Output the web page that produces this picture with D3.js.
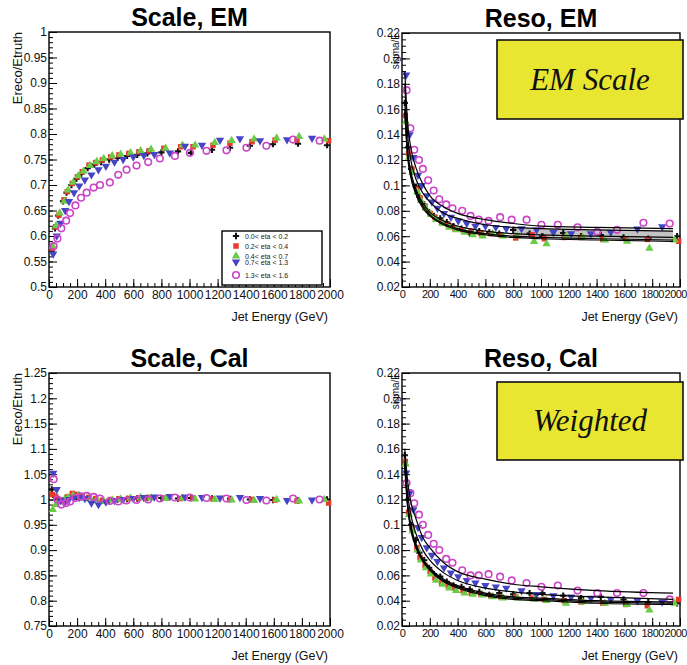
<!DOCTYPE html>
<html lang="en">
<head>
  <meta charset="UTF-8">
  <title>Jet energy scale and resolution</title>
  <style>
    html, body { margin: 0; background: #ffffff; }
    svg { display: block; font-family: "Liberation Sans", Arial, sans-serif; }
    .tick text { font-size: 12px; fill: #111; }
    .tick line { stroke: #000; stroke-width: 1; }
    .tight .tick text { font-size: 11px; letter-spacing: -0.5px; }
  </style>
</head>
<body>
  <svg id="chart" width="687" height="665"></svg>

  <script src="https://cdnjs.cloudflare.com/ajax/libs/d3/7.8.5/d3.min.js"></script>
  <script>
    // eta bins (legend order) and marker style per bin
    const seriesLabels = ['0.0< eta < 0.2', '0.2< eta < 0.4', '0.4< eta < 0.7', '0.7< eta < 1.3', '1.3< eta < 1.6'];
    const seriesColors = ['#111111', '#e8382c', '#6ccb45', '#4444c4', '#cc44c8'];
    const seriesShapes = ['cross', 'square', 'triUp', 'triDown', 'openCircle'];

    // jet energy (GeV) of every point, one list per eta bin
    const energy = [
      [20, 43, 66, 100, 125, 160, 195, 230, 275, 322, 370, 428, 488, 556, 628, 700, 800, 918, 1010, 1160, 1288, 1430, 1594, 1772, 1979],
      [24, 47, 71, 107, 130, 166, 202, 237, 285, 332, 380, 439, 498, 569, 640, 712, 818, 937, 1025, 1167, 1288, 1445, 1609, 1765, 1990],
      [27, 50, 76, 110, 136, 172, 208, 245, 292, 340, 390, 450, 510, 580, 652, 726, 830, 950, 1040, 1180, 1300, 1460, 1620, 1780, 1960],
      [30, 55, 82, 115, 142, 178, 215, 255, 302, 352, 405, 466, 528, 600, 675, 750, 860, 968, 1089, 1217, 1359, 1502, 1694, 1872],
      [33, 60, 88, 122, 150, 188, 228, 268, 318, 363, 433, 493, 552, 623, 706, 789, 896, 1003, 1121, 1263, 1405, 1547, 1737, 1926]
    ];

    // Ereco/Etruth, EM scale
    const scaleEM = [
      [0.57, 0.615, 0.64, 0.668, 0.685, 0.70, 0.712, 0.722, 0.733, 0.74, 0.745, 0.75, 0.753, 0.757, 0.759, 0.762, 0.764, 0.766, 0.763, 0.769, 0.773, 0.777, 0.78, 0.781, 0.778],
      [0.576, 0.618, 0.641, 0.671, 0.687, 0.703, 0.716, 0.726, 0.739, 0.744, 0.749, 0.755, 0.759, 0.762, 0.765, 0.767, 0.772, 0.775, 0.775, 0.778, 0.782, 0.785, 0.788, 0.788, 0.787],
      [0.58, 0.62, 0.645, 0.668, 0.69, 0.705, 0.718, 0.727, 0.738, 0.746, 0.752, 0.757, 0.76, 0.763, 0.767, 0.77, 0.772, 0.778, 0.778, 0.783, 0.787, 0.79, 0.792, 0.795, 0.79],
      [0.565, 0.6, 0.625, 0.65, 0.668, 0.685, 0.698, 0.71, 0.72, 0.73, 0.737, 0.745, 0.75, 0.755, 0.758, 0.76, 0.763, 0.776, 0.778, 0.788, 0.791, 0.787, 0.789, 0.792],
      [0.58, 0.595, 0.615, 0.63, 0.645, 0.66, 0.675, 0.685, 0.695, 0.70, 0.705, 0.72, 0.73, 0.738, 0.745, 0.752, 0.757, 0.763, 0.767, 0.768, 0.773, 0.777, 0.789, 0.787]
    ];

    // sigma/E, EM scale
    const resoEM = [
      [0.165, 0.13, 0.113, 0.099, 0.091, 0.085, 0.079, 0.076, 0.074, 0.071, 0.068, 0.066, 0.062, 0.064, 0.063, 0.062, 0.065, 0.062, 0.060, 0.0625, 0.060, 0.061, 0.059, 0.058, 0.060],
      [0.155, 0.125, 0.113, 0.097, 0.09, 0.083, 0.078, 0.075, 0.071, 0.069, 0.066, 0.065, 0.064, 0.062, 0.062, 0.061, 0.0586, 0.061, 0.058, 0.059, 0.059, 0.0575, 0.058, 0.0575, 0.056],
      [0.15, 0.122, 0.11, 0.095, 0.088, 0.082, 0.077, 0.073, 0.07, 0.067, 0.065, 0.063, 0.061, 0.06, 0.062, 0.06, 0.06, 0.0557, 0.054, 0.06, 0.059, 0.057, 0.056, 0.0505, 0.057],
      [0.187, 0.14, 0.122, 0.108, 0.1, 0.092, 0.087, 0.082, 0.078, 0.075, 0.072, 0.07, 0.068, 0.068, 0.067, 0.066, 0.066, 0.065, 0.063, 0.062, 0.062, 0.063, 0.0657, 0.0675],
      [0.175, 0.145, 0.128, 0.12, 0.113, 0.104, 0.096, 0.089, 0.085, 0.082, 0.08, 0.076, 0.073, 0.072, 0.075, 0.073, 0.073, 0.069, 0.069, 0.067, 0.0635, 0.065, 0.0706, 0.070]
    ];

    // Ereco/Etruth, weighted (Cal) scale
    const scaleCal = [
      [1.02, 1.005, 0.995, 0.998, 1.003, 1.006, 1.005, 1.004, 1.003, 1.0, 0.997, 0.998, 1.0, 1.001, 1.002, 1.003, 1.003, 1.002, 1.003, 1.002, 1.001, 1.0, 0.999, 0.998, 1.0],
      [1.01, 1.006, 1.0, 0.997, 1.005, 1.012, 1.01, 1.006, 1.004, 1.002, 0.998, 1.0, 1.001, 1.002, 1.003, 1.004, 1.003, 1.002, 1.003, 1.001, 1.0, 1.0, 0.999, 0.997, 0.993],
      [0.98, 0.99, 0.995, 1.0, 1.004, 1.008, 1.007, 1.005, 1.003, 1.0, 0.996, 0.999, 1.001, 1.003, 1.004, 1.003, 1.002, 1.003, 1.001, 1.0, 0.999, 0.998, 1.0, 0.997, 1.0],
      [1.052, 1.02, 0.998, 0.995, 1.0, 1.003, 1.004, 1.002, 0.993, 0.99, 0.995, 0.998, 1.0, 1.002, 1.004, 1.005, 1.006, 1.005, 1.004, 1.003, 1.004, 1.002, 0.998, 0.999],
      [1.04, 1.0, 0.99, 0.993, 0.996, 1.003, 1.006, 1.007, 1.005, 1.002, 0.997, 0.996, 0.998, 0.999, 1.0, 1.002, 1.004, 1.004, 1.003, 1.002, 0.999, 0.998, 1.002, 1.0]
    ];

    // sigma/E, weighted (Cal) scale
    const resoCal = [
      [0.155, 0.12, 0.1, 0.088, 0.078, 0.072, 0.066, 0.061, 0.059, 0.055, 0.052, 0.051, 0.049, 0.047, 0.0445, 0.046, 0.045, 0.046, 0.046, 0.044, 0.042, 0.043, 0.041, 0.039, 0.038],
      [0.15, 0.11, 0.097, 0.082, 0.074, 0.068, 0.063, 0.058, 0.054, 0.052, 0.05, 0.048, 0.046, 0.045, 0.044, 0.043, 0.043, 0.042, 0.041, 0.04, 0.039, 0.038, 0.037, 0.036, 0.041],
      [0.148, 0.108, 0.095, 0.08, 0.072, 0.066, 0.061, 0.056, 0.053, 0.05, 0.048, 0.046, 0.045, 0.0445, 0.043, 0.042, 0.042, 0.041, 0.04, 0.038, 0.039, 0.038, 0.037, 0.0326, 0.038],
      [0.141, 0.125, 0.112, 0.098, 0.09, 0.082, 0.076, 0.071, 0.066, 0.062, 0.059, 0.056, 0.054, 0.052, 0.051, 0.05, 0.048, 0.045, 0.044, 0.043, 0.042, 0.041, 0.04, 0.039],
      [0.133, 0.125, 0.117, 0.108, 0.1, 0.092, 0.085, 0.08, 0.073, 0.07, 0.064, 0.06, 0.06, 0.061, 0.059, 0.056, 0.054, 0.051, 0.052, 0.048, 0.046, 0.046, 0.046, 0.041]
    ];

    // fitted resolution curves at these energies
    const fitEnergy = [20, 40, 60, 100, 150, 200, 300, 400, 600, 800, 1000, 1400, 1950];
    const resoEMFit = [
      [0.165, 0.128, 0.113, 0.097, 0.086, 0.079, 0.072, 0.068, 0.064, 0.062, 0.061, 0.060, 0.059],
      [0.16, 0.125, 0.11, 0.095, 0.084, 0.077, 0.070, 0.066, 0.062, 0.060, 0.059, 0.058, 0.057],
      [0.158, 0.123, 0.108, 0.093, 0.082, 0.076, 0.069, 0.065, 0.061, 0.059, 0.058, 0.057, 0.056],
      [0.18, 0.14, 0.122, 0.105, 0.094, 0.087, 0.078, 0.074, 0.069, 0.067, 0.066, 0.065, 0.064],
      [0.19, 0.15, 0.132, 0.114, 0.101, 0.092, 0.083, 0.078, 0.073, 0.070, 0.068, 0.067, 0.066]
    ];
    const resoCalFit = [
      [0.15, 0.118, 0.102, 0.085, 0.073, 0.066, 0.057, 0.052, 0.046, 0.043, 0.042, 0.040, 0.039],
      [0.148, 0.116, 0.1, 0.083, 0.072, 0.065, 0.056, 0.051, 0.045, 0.042, 0.041, 0.039, 0.038],
      [0.146, 0.114, 0.098, 0.082, 0.071, 0.064, 0.055, 0.05, 0.044, 0.041, 0.040, 0.038, 0.037],
      [0.155, 0.125, 0.11, 0.093, 0.08, 0.072, 0.062, 0.056, 0.05, 0.047, 0.045, 0.043, 0.041],
      [0.16, 0.135, 0.12, 0.105, 0.09, 0.082, 0.07, 0.063, 0.057, 0.053, 0.051, 0.048, 0.046]
    ];

    const panels = [
      { title: 'Scale, EM', ylabel: 'Ereco/Etruth', values: scaleEM, fit: null,
        left: 49, top: 32, right: 330, bottom: 287, yDomain: [0.5, 1.0], yStep: 0.05, yMinor: 0.01,
        legend: true },
      { title: 'Reso, EM', ylabel: 'sigma/E', values: resoEM, fit: resoEMFit, band: [1, 3, 9],
        left: 402, top: 33, right: 680, bottom: 287, yDomain: [0.02, 0.22], yStep: 0.02, yMinor: 0.005,
        box: { text: 'EM Scale', x0: 497, y0: 40, x1: 683, y1: 119 } },
      { title: 'Scale, Cal', ylabel: 'Ereco/Etruth', values: scaleCal, fit: null,
        left: 49, top: 373, right: 330, bottom: 626, yDomain: [0.75, 1.25], yStep: 0.05, yMinor: 0.01 },
      { title: 'Reso, Cal', ylabel: 'sigma/E', values: resoCal, fit: resoCalFit,
        left: 402, top: 373, right: 680, bottom: 626, yDomain: [0.02, 0.22], yStep: 0.02, yMinor: 0.005,
        box: { text: 'Weighted', x0: 497, y0: 382, x1: 683, y1: 460 } }
    ];

    const svg = d3.select('#chart');
    const fmt = d => String(+d.toFixed(3));

    function drawMarker(g, shape, color, x, y) {
      if (shape === 'openCircle') {
        g.append('circle').attr('cx', x).attr('cy', y).attr('r', 3.3)
          .attr('fill', 'none').attr('stroke', color).attr('stroke-width', 1.6);
        return;
      }
      const sym = {
        cross: d3.symbol(d3.symbolCross, 22),
        square: d3.symbol(d3.symbolSquare, 30),
        triUp: d3.symbol(d3.symbolTriangle, 30),
        triDown: d3.symbol(d3.symbolTriangle, 30)
      }[shape];
      g.append('path').attr('d', sym())
        .attr('transform', `translate(${x},${y})` + (shape === 'triDown' ? ' rotate(180)' : ''))
        .attr('fill', color);
    }

    panels.forEach(p => {
      const x = d3.scaleLinear().domain([0, 2000]).range([p.left, p.right]);
      const y = d3.scaleLinear().domain(p.yDomain).range([p.bottom, p.top]);
      const g = svg.append('g');
      const nearEdge = p.right > 660;

      const yMajor = d3.range(p.yDomain[0], p.yDomain[1] + 1e-9, p.yStep).map(v => +v.toFixed(4));
      const yMinorTicks = d3.range(p.yDomain[0], p.yDomain[1] + 1e-9, p.yMinor).map(v => +v.toFixed(4));
      const xMajor = d3.range(0, 2001, 200);
      const xMinorTicks = d3.range(0, 2001, 50);

      // minor ticks
      g.append('g').attr('transform', `translate(${p.left},0)`)
        .call(d3.axisLeft(y).tickValues(yMinorTicks).tickSize(-4).tickFormat(''))
        .call(a => a.select('.domain').remove());
      g.append('g').attr('transform', `translate(0,${p.bottom})`)
        .call(d3.axisBottom(x).tickValues(xMinorTicks).tickSize(-4).tickFormat(''))
        .call(a => a.select('.domain').remove());

      // major ticks with labels
      g.append('g').attr('transform', `translate(${p.left},0)`)
        .call(d3.axisLeft(y).tickValues(yMajor).tickSize(-8).tickPadding(2).tickFormat(fmt))
        .call(a => a.select('.domain').remove());
      g.append('g').attr('transform', `translate(0,${p.bottom})`)
        .classed('tight', nearEdge)
        .call(d3.axisBottom(x).tickValues(xMajor).tickSize(-8).tickPadding(3).tickFormat(d3.format('d')))
        .call(a => a.select('.domain').remove())
        .call(a => {
          // last label on the right-hand panels would run off the page edge
          if (nearEdge) {
            a.selectAll('.tick').filter(d => d === 2000).select('text')
              .attr('text-anchor', 'end').attr('x', 6.5);
          }
        });

      // frame
      g.append('rect').attr('x', p.left).attr('y', p.top)
        .attr('width', p.right - p.left).attr('height', p.bottom - p.top)
        .attr('fill', 'none').attr('stroke', '#000').attr('stroke-width', 1.4);

      // titles
      g.append('text').attr('x', (p.left + p.right) / 2).attr('y', p.top - 6)
        .attr('text-anchor', 'middle').attr('font-size', 25).attr('font-weight', 'bold')
        .text(p.title);
      g.append('text').attr('x', p.right - 2).attr('y', p.bottom + 34)
        .attr('text-anchor', 'end').attr('font-size', 12.5).attr('fill', '#111')
        .text('Jet Energy (GeV)');
      const ylx = p.ylabel === 'sigma/E' ? p.left - 3 : p.left - 27;
      g.append('text').attr('transform', `translate(${ylx},${p.top}) rotate(-90)`)
        .attr('text-anchor', 'end').attr('font-size', p.ylabel === 'sigma/E' ? 10 : 13).attr('fill', '#111')
        .text(p.ylabel);

      // error band between fits at high energy
      if (p.band) {
        const [lo, hi, start] = p.band;
        const idx = d3.range(start, fitEnergy.length);
        g.append('path').datum(idx)
          .attr('d', d3.area().curve(d3.curveMonotoneX)
            .x(i => x(fitEnergy[i])).y0(i => y(p.fit[lo][i])).y1(i => y(p.fit[hi][i])))
          .attr('fill', '#c4c4c4');
      }

      // data points
      const pts = g.append('g');
      p.values.forEach((vals, s) => {
        vals.forEach((v, i) => drawMarker(pts, seriesShapes[s], seriesColors[s], x(energy[s][i]), y(v)));
      });

      // fit curves
      if (p.fit) {
        const line = d3.line().curve(d3.curveMonotoneX).x((d, i) => x(fitEnergy[i])).y(d => y(d));
        p.fit.forEach(f => {
          g.append('path').attr('d', line(f)).attr('fill', 'none')
            .attr('stroke', '#000').attr('stroke-width', 1.2);
        });
      }

      // legend
      if (p.legend) {
        const lg = g.append('g');
        lg.append('rect').attr('x', 222).attr('y', 231).attr('width', 100).attr('height', 54)
          .attr('fill', '#fff').attr('stroke', '#000').attr('stroke-width', 1.4);
        const rowY = [236, 246, 256, 262, 275];
        seriesLabels.forEach((lab, s) => {
          drawMarker(lg, seriesShapes[s], seriesColors[s], 236, rowY[s]);
          lg.append('text').attr('x', 245).attr('y', rowY[s] + 2.5).attr('font-size', 7)
            .attr('fill', '#222').text(lab);
        });
      }

      // yellow label box
      if (p.box) {
        const b = p.box;
        g.append('rect').attr('x', b.x0).attr('y', b.y0)
          .attr('width', b.x1 - b.x0).attr('height', b.y1 - b.y0)
          .attr('fill', '#e8e630').attr('stroke', '#111').attr('stroke-width', 1.6);
        g.append('text').attr('x', (b.x0 + b.x1) / 2).attr('y', (b.y0 + b.y1) / 2 + 10)
          .attr('text-anchor', 'middle').attr('font-family', '"Liberation Serif", "DejaVu Serif", serif')
          .attr('font-style', 'italic').attr('font-size', 31).attr('fill', '#111')
          .text(b.text);
      }
    });
  </script>
</body>
</html>
